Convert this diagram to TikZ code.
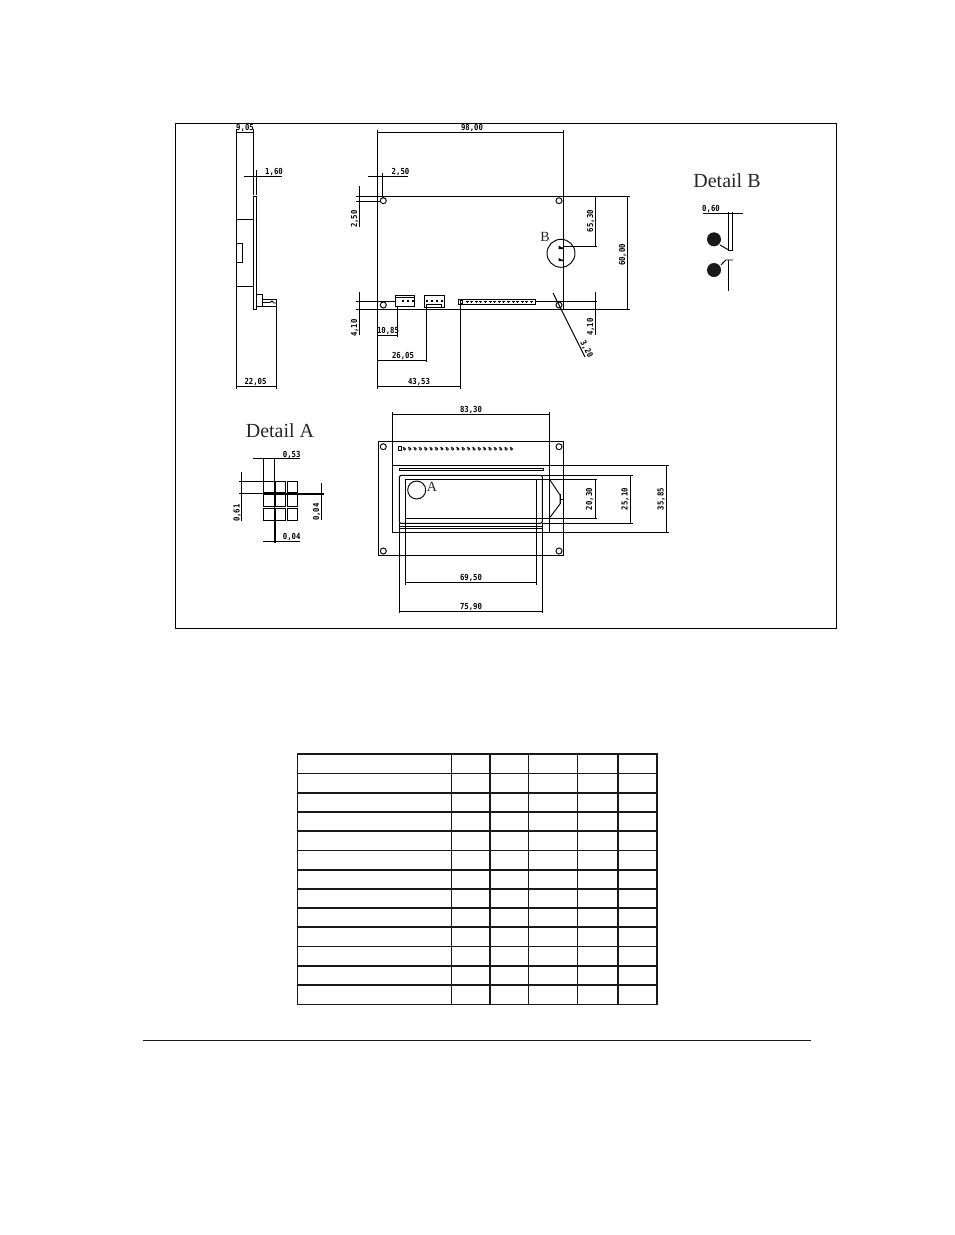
\documentclass[tikz,border=0pt]{standalone}
\usepackage{fontspec}
\setmainfont{Liberation Serif}
\newfontfamily\dimfont{DejaVu Sans Mono Bold}[FakeStretch=0.88]
\usetikzlibrary{arrows.meta}
\tikzset{
  x=1pt,y=-1pt,
  ln/.style={line width=0.95pt,black},
  fine/.style={line width=0.7pt,black},
  dimtxt/.style={font=\dimfont\fontsize{8.3}{9}\selectfont,inner sep=0pt,text=black},
  title/.style={font=\fontsize{20}{22}\selectfont,inner sep=0pt,text=black!85},
  letter/.style={font=\fontsize{14}{15}\selectfont,inner sep=0pt,text=black!85},
  thick rule/.style={line width=1.8pt,black!90},
  thin rule/.style={line width=0.9pt,black!90},
}
\begin{document}
\begin{tikzpicture}
\useasboundingbox (0,0) rectangle (954,1235);
\fill[white] (0,0) rectangle (954,1235);
% frame
\draw[line width=0.9pt] (175.5,123.5) rectangle (836,628);

% ===== side view =====
\begin{scope}[ln]
\draw (236.7,129) -- (236.7,389);
\draw (253.3,129) -- (253.3,195);
\draw (236.7,132) -- (253.3,132);
\draw (256.7,170) -- (256.7,194.5);
\draw (244,176.2) -- (281.7,176.2);
\draw (253.3,196) rectangle (256.7,309);
\draw (236.7,219) -- (253.3,219);
\draw (236.7,286) -- (253.3,286);
\draw (236.7,243.3) rectangle (242.7,262.3);
\draw (256.7,294) rectangle (262.7,306);
\draw[line width=1.4pt] (262.7,299.3) -- (276.3,299.3);
\draw (262.7,302.5) -- (270,302.5) -- (272,301) -- (274,303) -- (276.3,303);
\draw (256.7,306.3) -- (276.3,306.3);
\draw (276.3,299.3) -- (276.3,389);
\draw (236.7,386.2) -- (276.3,386.2);
\end{scope}
\node[dimtxt] (t905) at (245,128) {9,05};
\node[dimtxt] (t160) at (274,172) {1,60};
\node[dimtxt] (t2205) at (255.5,382) {22,05};

% ===== main view (top) =====
\begin{scope}[ln]
\draw (377.3,130) -- (377.3,389);
\draw (563.3,130) -- (563.3,309.3);
\draw (356,196.3) -- (630,196.3);
\draw (356,309.3) -- (630,309.3);
\draw (377.3,132.3) -- (563.3,132.3);
\draw (368.3,176) -- (408,176);
\draw (382.7,173) -- (382.7,198);
\draw (356,201) -- (380,201);
\draw (359,186) -- (359,227);
\draw (356,301.3) -- (395.5,301.3);
\draw (535.7,301.3) -- (597.3,301.3);
\draw (359,292) -- (359,335);
\draw (395.5,295.7) rectangle (414.7,306.7);
\draw (395.5,297.5) -- (414.7,297.5);
\draw (424.3,295.7) rectangle (444.5,307.7);
\draw (426.7,304.3) rectangle (441.7,307.7);
\draw (458.3,299.2) rectangle (535.7,304.3);
\draw (397.7,306.7) -- (397.7,337.3);
\draw (377.3,335.7) -- (397.7,335.7);
\draw (426.7,307.7) -- (426.7,362.3);
\draw (377.3,360) -- (426.7,360);
\draw (460,304.3) -- (460,388.5);
\draw (377.3,386.5) -- (460,386.5);
\draw (563.3,246.3) -- (597.3,246.3);
\draw (595,196.3) -- (595,246.3);
\draw (627.7,196.3) -- (627.7,309.3);
\draw (595,292) -- (595,335);
\draw (553,293) -- (585,357);
\draw (383.3,200.7) circle (3);
\draw (559,200.7) circle (3);
\draw (383.3,305) circle (3);
\draw (559,305) circle (3);
\draw (561,253.3) circle (14);
\end{scope}
\foreach \x in {402,406.5,411.5} \fill (\x,300) rectangle +(2.2,2.4);
\foreach \x in {426,431,436,441} \fill (\x,300) rectangle +(2.2,2.4);
\draw[fine] (460,300.5) rectangle (462.5,303);
\foreach \i in {0,...,14} \draw[fine] ({465.5+4.6*\i},301.7) -- +(3,0) ({467+4.6*\i},300.5) -- +(0,2.4);
\fill (558.5,245.5) -- (561.5,247.3) -- (563,247.3) -- (563,249) -- (558.5,249) -- cycle;
\fill (558.5,257.8) -- (561.5,259.6) -- (563,259.6) -- (563,261) -- (558.5,261) -- cycle;
\node[dimtxt] (t9800) at (472,127.5) {98,00};
\node[dimtxt] (t250a) at (400.5,171.5) {2,50};
\node[dimtxt,rotate=90] (t250b) at (354.5,219) {2,50};
\node[dimtxt,rotate=90] (t410a) at (354.5,328) {4,10};
\node[dimtxt,rotate=90] (t410b) at (590.5,327) {4,10};
\node[dimtxt,rotate=90] (t6530) at (590.5,221) {65,30};
\node[dimtxt,rotate=90] (t6000) at (622.5,255) {60,00};
\node[dimtxt] (t1085) at (388,331) {10,85};
\node[dimtxt] (t2605) at (403,355.5) {26,05};
\node[dimtxt] (t4353) at (419,381.5) {43,53};
\node[dimtxt,rotate=-62] (t320) at (586.5,349) {3,20};
\node[letter] (tB) at (545,237) {B};

% ===== Detail B =====
\node[title] (tDB) at (727,181) {Detail B};
\begin{scope}[ln]
\draw (703,213.3) -- (742.7,213.3);
\draw (728.7,211.7) -- (728.7,250) -- (732.7,250) -- (732.7,211.7);
\draw (728.7,260) -- (728.7,290.7);
\draw (721,265) -- (725.7,260) -- (733,260);
\draw (720,245) -- (728.7,250);
\end{scope}
\fill[black!90] (714,239.3) circle (7);
\fill[black!90] (714,270) circle (7);
\node[dimtxt] (t060) at (711,209) {0,60};

% ===== front view =====
\begin{scope}[ln]
\draw (378.3,441.3) rectangle (563.3,555.3);
\draw (383.3,446.7) circle (3);
\draw (559,446.7) circle (3);
\draw (383.3,551) circle (3);
\draw (559,551) circle (3);
\draw (392.3,412) -- (392.3,532.3);
\draw (549.3,412) -- (549.3,532.3);
\draw (392.3,414.3) -- (549.3,414.3);
\draw (392.3,465.3) -- (669.3,465.3);
\draw (392.3,532.3) -- (669.3,532.3);
\draw (399.3,468) rectangle (543.3,470.7);
\draw[rounded corners=1.5pt] (399.3,475.3) rectangle (542.3,523.3);
\draw (542.3,475.3) -- (632.7,475.3);
\draw (542.3,523.3) -- (632.7,523.3);
\draw (399.3,523.3) -- (399.3,613.3);
\draw (542.3,523.3) -- (542.3,613.3);
\draw (405.3,479.3) rectangle (536.7,518);
\draw (536.7,479.3) -- (597.3,479.3);
\draw (536.7,518) -- (597.3,518);
\draw (405.3,518) -- (405.3,585);
\draw (536.7,518) -- (536.7,585);
\draw (399.3,526) -- (543.3,526);
\draw (399.3,528.7) -- (543.3,528.7);
\draw (550,480) -- (560,495) -- (560,504) -- (550,517.3);
\draw[line width=1.4pt] (560.3,494) -- (560.3,504);
\draw (560,499) -- (563,499);
\draw (595,479.3) -- (595,518);
\draw (630.3,475.3) -- (630.3,523.3);
\draw (666,465.3) -- (666,532.3);
\draw (416.7,490) circle (9);
\draw (405.3,582.3) -- (536.7,582.3);
\draw (399.3,611) -- (542.3,611);
\draw (398.3,446.5) rectangle (401,450.3);
\end{scope}
\foreach \i in {0,...,20} \draw[fine] ({404.5+5.35*\i},449) circle (1.2) ({402.8+5.35*\i},447) -- +(1.4,1);
\node[dimtxt] (t8330) at (471,409.5) {83,30};
\node[dimtxt] (t6950) at (471,577.5) {69,50};
\node[dimtxt] (t7590) at (471,606.5) {75,90};
\node[dimtxt,rotate=90] (t2030) at (589.5,499) {20,30};
\node[dimtxt,rotate=90] (t2510) at (625.2,499) {25,10};
\node[dimtxt,rotate=90] (t3585) at (661.2,499) {35,85};
\node[letter] (tA) at (432,487) {A};

% ===== Detail A =====
\node[title] (tDA) at (280,431) {Detail A};
\begin{scope}[ln]
\draw (263.3,457.7) -- (263.3,481);
\draw (274,457.7) -- (274,543);
\draw (275.7,520) -- (275.7,543);
\draw (253,458.3) -- (300,458.3);
\draw (263,541) -- (300,541);
\draw (239.3,481) -- (263.3,481);
\draw (239.3,493.7) -- (263.3,493.7);
\draw[line width=1.7pt] (263.3,493.7) -- (324,493.7);
\draw (241.7,472) -- (241.7,521);
\draw (321.7,483) -- (321.7,520);
\foreach \xa/\xb in {263.3/274,275.3/285.7,287.3/297.7}
  \foreach \ya/\yb in {481/492.7,494.3/506,508.3/520}
    \draw (\xa,\ya) rectangle (\xb,\yb);
\end{scope}
\node[dimtxt] (t053) at (291.7,454.5) {0,53};
\node[dimtxt] (t004b) at (291.7,536.5) {0,04};
\node[dimtxt,rotate=90] (t061) at (237.2,513) {0,61};
\node[dimtxt,rotate=90] (t004r) at (316.5,512) {0,04};

% ===== table =====
\draw[line width=1.8pt,black!90] (297.5,754.3) rectangle (657,1004.4);
\draw[line width=0.9pt,black!90] (451.5,754.3) -- (451.5,1004.4);
\foreach \x in {490,528.5,577.5,618}
  \draw[thick rule] (\x,754.3) -- (\x,1004.4);
\foreach \y in {773.3,850.5}
  \draw[thin rule] (297.5,\y) -- (657,\y);
\foreach \y in {792.7,812,831.3,870,888.6,907.9,927,946.4,965.8,985.1}
  \draw[thick rule] (297.5,\y) -- (657,\y);
% bottom rule
\draw[line width=1.8pt,black!90] (143,1040.5) -- (811,1040.5);
\end{tikzpicture}
\end{document}
